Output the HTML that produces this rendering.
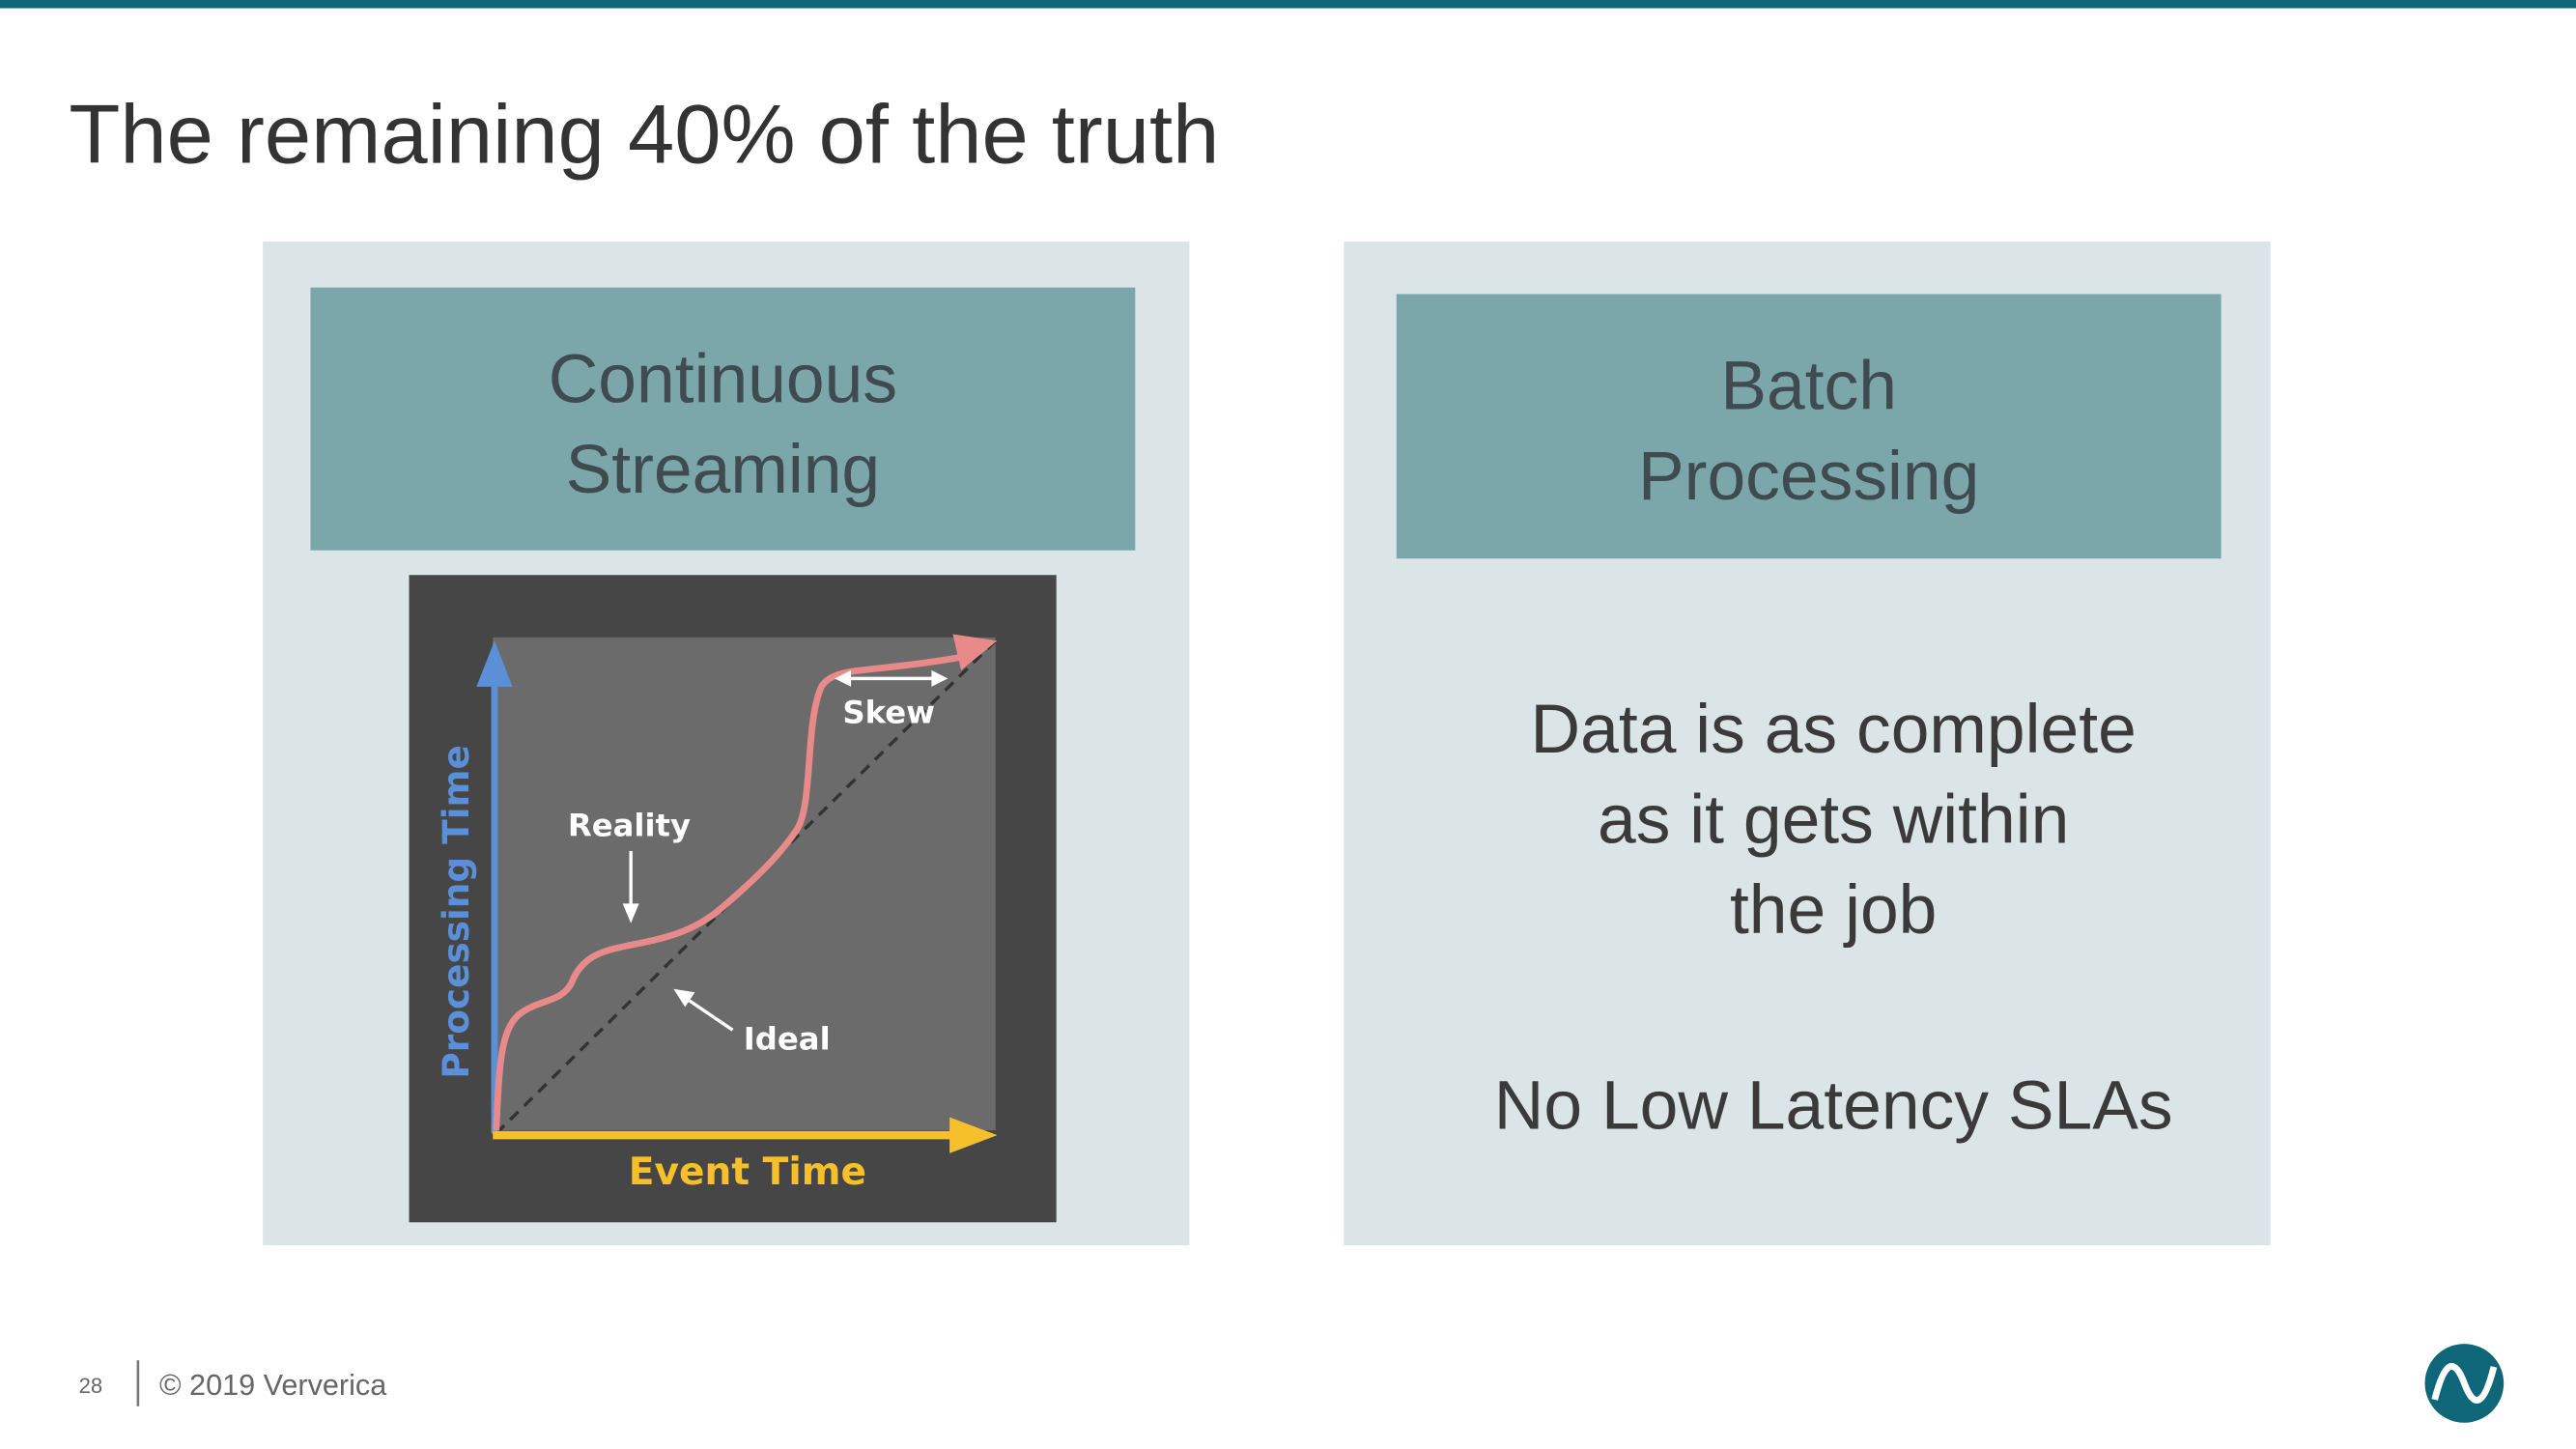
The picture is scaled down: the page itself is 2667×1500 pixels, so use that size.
<!DOCTYPE html>
<html><head><meta charset="utf-8"><style>
html,body{margin:0;padding:0;background:#fff;}
svg{display:block;}
</style></head><body>
<svg width="2667" height="1500" viewBox="0 0 1568 882" preserveAspectRatio="none" xmlns="http://www.w3.org/2000/svg" font-family="Liberation Sans, sans-serif">
<rect x="0" y="0" width="1568" height="5" fill="#0e6678"/>
<text x="42" y="99" font-size="51" fill="#333">The remaining 40% of the truth</text>
<rect x="160" y="147" width="564" height="611" fill="#dbe5e8"/>
<rect x="818" y="147" width="564" height="611" fill="#dbe5e8"/>
<rect x="189" y="175" width="502" height="160" fill="#7ba7ab"/>
<rect x="850" y="179" width="502" height="161" fill="#7ba7ab"/>
<g font-size="42" fill="#3f4b50" text-anchor="middle">
<text x="440" y="245">Continuous</text>
<text x="440" y="300">Streaming</text>
<text x="1101" y="249">Batch</text>
<text x="1101" y="304">Processing</text>
</g>
<g font-size="42" fill="#3a3a3a" text-anchor="middle">
<text x="1116" y="458">Data is as complete</text>
<text x="1116" y="513">as it gets within</text>
<text x="1116" y="568">the job</text>
<text x="1116" y="687">No Low Latency SLAs</text>
</g>
<!-- chart -->
<rect x="249" y="350" width="394" height="394" fill="#464646"/>
<rect x="300" y="388" width="306" height="300" fill="#6b6b6b"/>
<line x1="302" y1="690" x2="606" y2="390" stroke="#333" stroke-width="2" stroke-dasharray="7,5"/>
<line x1="301" y1="690" x2="301" y2="415" stroke="#5b8fd8" stroke-width="4"/>
<polygon points="301,390 290,418 312,418" fill="#5b8fd8"/>
<line x1="300" y1="691" x2="580" y2="691" stroke="#f5c02a" stroke-width="5"/>
<polygon points="607,691 578,680 578,702" fill="#f5c02a"/>
<path d="M302,688 C304,650 304,625 318,616 C330,608 342,610 348,598 C355,580 370,578 390,574 C410,570 425,565 440,552 C460,535 475,520 485,505 C495,490 490,440 500,418 C508,405 530,410 585,400" fill="none" stroke="#e88a8a" stroke-width="4"/>
<polygon points="607,390 580,386 585,408" fill="#e88a8a"/>
<g stroke="#fff" stroke-width="2" fill="#fff">
<line x1="515" y1="413" x2="570" y2="413"/>
<polygon points="508,413 518,408 518,418" stroke="none"/>
<polygon points="577,413 567,408 567,418" stroke="none"/>
<line x1="384" y1="518" x2="384" y2="552"/>
<polygon points="384,562 379,550 389,550" stroke="none"/>
<line x1="446" y1="627" x2="418" y2="608"/>
<polygon points="410,602 423,604 417,613" stroke="none"/>
</g>
<g font-weight="bold" font-family="DejaVu Sans, sans-serif">
<text x="541" y="440" font-size="19" fill="#fff" text-anchor="middle">Skew</text>
<text x="383" y="509" font-size="19" fill="#fff" text-anchor="middle">Reality</text>
<text x="479" y="639" font-size="19" fill="#fff" text-anchor="middle">Ideal</text>
<text x="455" y="721" font-size="23" fill="#f5c02a" text-anchor="middle">Event Time</text>
<text transform="translate(285,555) rotate(-90)" font-size="22" fill="#5b8fd8" text-anchor="middle">Processing Time</text>
</g>
<!-- footer -->
<text x="48" y="848" font-size="13" fill="#666">28</text>
<line x1="84" y1="828" x2="84" y2="856" stroke="#777" stroke-width="1.5"/>
<text x="97" y="849" font-size="18" fill="#666">© 2019 Ververica</text>
<circle cx="1500" cy="842" r="24" fill="#0e6678"/>
<path d="M1482,852 C1488,828 1494,826 1500,842 C1506,858 1512,856 1518,832" fill="none" stroke="#fff" stroke-width="4"/>
</svg>
</body></html>
